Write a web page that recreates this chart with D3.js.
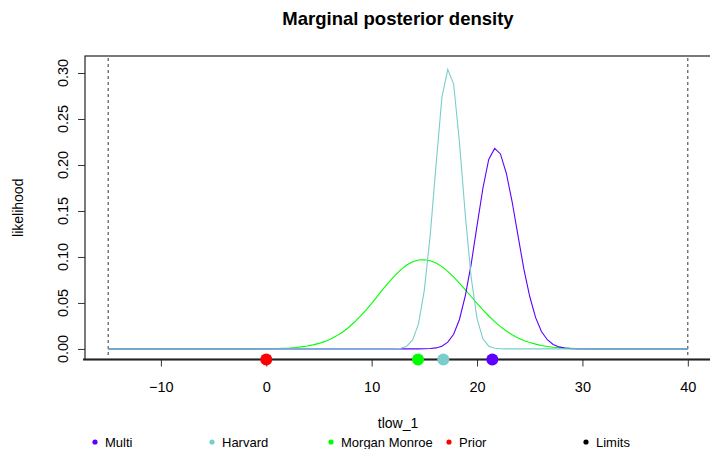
<!DOCTYPE html>
<html>
<head>
<meta charset="utf-8">
<script src="https://cdn.jsdelivr.net/npm/d3@7"></script>
<style>
  body { margin: 0; background: #fff; }
  svg { display: block; font-family: "Liberation Sans", Arial, Helvetica, sans-serif; }
</style>
</head>
<body>
<svg id="chart"></svg>
<script>
// grid of tlow_1 values the densities were evaluated on (-15 .. 40)
const tlowGrid = [
  -15, -14.44, -13.89, -13.33, -12.78, -12.22, -11.67, -11.11, -10.56, -10,
  -9.44, -8.89, -8.33, -7.78, -7.22, -6.67, -6.11, -5.56, -5, -4.44,
  -3.89, -3.33, -2.78, -2.22, -1.67, -1.11, -0.56, 0, 0.56, 1.11,
  1.67, 2.22, 2.78, 3.33, 3.89, 4.44, 5, 5.56, 6.11, 6.67,
  7.22, 7.78, 8.33, 8.89, 9.44, 10, 10.56, 11.11, 11.67, 12.22,
  12.78, 13.33, 13.89, 14.44, 15, 15.56, 16.11, 16.67, 17.22, 17.78,
  18.33, 18.89, 19.44, 20, 20.56, 21.11, 21.67, 22.22, 22.78, 23.33,
  23.89, 24.44, 25, 25.56, 26.11, 26.67, 27.22, 27.78, 28.33, 28.89,
  29.44, 30, 30.56, 31.11, 31.67, 32.22, 32.78, 33.33, 33.89, 34.44,
  35, 35.56, 36.11, 36.67, 37.22, 37.78, 38.33, 38.89, 39.44, 40
];

const multiDensity = [
  0, 0, 0, 0, 0, 0, 0, 0, 0, 0,
  0, 0, 0, 0, 0, 0, 0, 0, 0, 0,
  0, 0, 0, 0, 0, 0, 0, 0, 0, 0,
  0, 0, 0, 0, 0, 0, 0, 0, 0, 0,
  0, 0, 0, 0, 0, 0, 0, 0, 0, 0,
  0, 0, 0, 0.0001, 0.0002, 0.0004, 0.0011, 0.003, 0.0074, 0.016,
  0.032, 0.058, 0.092, 0.134, 0.175, 0.206, 0.218, 0.212, 0.191, 0.16,
  0.123, 0.087, 0.057, 0.034, 0.019, 0.01, 0.0048, 0.0022, 0.0009, 0.0003,
  0.0001, 0, 0, 0, 0, 0, 0, 0, 0, 0,
  0, 0, 0, 0, 0, 0, 0, 0, 0, 0
];

const harvardDensity = [
  0, 0, 0, 0, 0, 0, 0, 0, 0, 0,
  0, 0, 0, 0, 0, 0, 0, 0, 0, 0,
  0, 0, 0, 0, 0, 0, 0, 0, 0, 0,
  0, 0, 0, 0, 0, 0, 0, 0, 0, 0,
  0, 0, 0, 0, 0, 0, 0, 0, 0, 0.0001,
  0.0007, 0.003, 0.0098, 0.027, 0.064, 0.124, 0.2, 0.274, 0.304, 0.288,
  0.225, 0.145, 0.078, 0.033, 0.011, 0.003, 0.0008, 0.0002, 0, 0,
  0, 0, 0, 0, 0, 0, 0, 0, 0, 0,
  0, 0, 0, 0, 0, 0, 0, 0, 0, 0,
  0, 0, 0, 0, 0, 0, 0, 0, 0, 0
];

const morganMonroeDensity = [
  0, 0, 0, 0, 0, 0, 0, 0, 0, 0,
  0, 0, 0, 0, 0, 0, 0, 0, 0, 0,
  0, 0, 0.00001, 0.00002, 0.00004, 0.00007, 0.00011, 0.00018, 0.00029, 0.00044,
  0.00068, 0.001, 0.0015, 0.0022, 0.0031, 0.0044, 0.006, 0.0082, 0.0109, 0.0142,
  0.0182, 0.023, 0.0287, 0.035, 0.042, 0.0495, 0.0575, 0.0655, 0.073, 0.08,
  0.0862, 0.0912, 0.0948, 0.0967, 0.097, 0.0959, 0.0934, 0.0895, 0.0844, 0.0783,
  0.0716, 0.0643, 0.057, 0.0495, 0.0424, 0.0358, 0.0297, 0.0243, 0.0195, 0.0155,
  0.012, 0.0092, 0.007, 0.0052, 0.0038, 0.0027, 0.0019, 0.0013, 0.0009, 0.0006,
  0.0004, 0.00027, 0.00017, 0.0001, 0.00006, 0.00003, 0, 0, 0, 0,
  0, 0, 0, 0, 0, 0, 0, 0, 0, 0
];

// point estimates drawn on the x axis
const pointNames = ["Prior", "Morgan Monroe", "Harvard", "Multi"];
const pointValues = [0, 14.4, 16.8, 21.45];

const limitValues = [-15, 40];

const xTicks = [-10, 0, 10, 20, 30, 40];
const yTicks = [0, 0.05, 0.10, 0.15, 0.20, 0.25, 0.30];

const legendLabels = ["Multi", "Harvard", "Morgan Monroe", "Prior", "Limits"];

const colors = {
  "Multi": "#5d00ff",
  "Harvard": "#79cdcd",
  "Morgan Monroe": "#00ff00",
  "Prior": "#ff0000",
  "Limits": "#000000"
};

const width = 710, height = 449;
const plot = {left: 85, right: 711, top: 56, bottom: 359.5};
const legendX = [95, 212, 331, 449, 586];   // R legend item positions

const svg = d3.select("#chart")
    .attr("width", width)
    .attr("height", height);

const x = d3.scaleLinear()
    .domain([-17.2, 42.2])
    .range([plot.left, plot.right]);

const y = d3.scaleLinear()
    .domain([-0.0115, 0.3185])
    .range([plot.bottom, plot.top]);

// Title
svg.append("text")
    .attr("x", (plot.left + plot.right) / 2)
    .attr("y", 25)
    .attr("text-anchor", "middle")
    .style("font-size", "18.5px")
    .style("font-weight", "bold")
    .text("Marginal posterior density");

// plot box
svg.append("rect")
    .attr("x", plot.left)
    .attr("y", plot.top)
    .attr("width", plot.right - plot.left)
    .attr("height", plot.bottom - plot.top)
    .attr("fill", "none")
    .attr("stroke", "#222")
    .attr("stroke-width", 1.2);

// limits
svg.selectAll(".limit")
    .data(limitValues)
    .join("line")
    .attr("class", "limit")
    .attr("x1", d => x(d)).attr("x2", d => x(d))
    .attr("y1", plot.top + 2).attr("y2", plot.bottom - 2)
    .attr("stroke", "#333")
    .attr("stroke-width", 1)
    .attr("stroke-dasharray", "3,3");

// density curves
const series = [
  {name: "Morgan Monroe", values: morganMonroeDensity},
  {name: "Multi", values: multiDensity},
  {name: "Harvard", values: harvardDensity}
];

const line = d3.line()
    .x((d, i) => x(tlowGrid[i]))
    .y(d => y(d));

svg.selectAll(".density")
    .data(series)
    .join("path")
    .attr("class", "density")
    .attr("d", d => line(d.values))
    .attr("fill", "none")
    .attr("stroke", d => colors[d.name])
    .attr("stroke-width", 1.1);

// x axis
const xAxisG = svg.append("g")
    .attr("transform", `translate(0,${plot.bottom})`)
    .call(d3.axisBottom(x).tickValues(xTicks).tickSize(7).tickPadding(15).tickFormat(d3.format("d")));
xAxisG.select(".domain").remove();
xAxisG.selectAll("line").attr("stroke", "#333");
xAxisG.selectAll("text").style("font-size", "14.5px").style("font-family", "Liberation Sans, Arial, sans-serif").attr("fill", "#000");

svg.append("line")
    .attr("x1", plot.left - 2).attr("x2", width)
    .attr("y1", plot.bottom).attr("y2", plot.bottom)
    .attr("stroke", "#222")
    .attr("stroke-width", 2);

// y axis
const yAxisG = svg.append("g")
    .attr("transform", `translate(${plot.left},0)`)
    .call(d3.axisLeft(y).tickValues(yTicks).tickSize(7).tickFormat(""));
yAxisG.select(".domain").remove();
yAxisG.selectAll("line").attr("stroke", "#333");

svg.selectAll(".ytick-label")
    .data(yTicks)
    .join("text")
    .attr("class", "ytick-label")
    .attr("transform", d => `translate(67.5,${y(d)}) rotate(-90)`)
    .attr("text-anchor", "middle")
    .style("font-size", "14.5px")
    .text(d3.format(".2f"));

// axis titles
svg.append("text")
    .attr("transform", `translate(23,${(plot.top + plot.bottom) / 2}) rotate(-90)`)
    .attr("text-anchor", "middle")
    .style("font-size", "14px")
    .text("likelihood");

svg.append("text")
    .attr("x", (plot.left + plot.right) / 2)
    .attr("y", 428)
    .attr("text-anchor", "middle")
    .style("font-size", "14px")
    .text("tlow_1");

// point estimates on the axis
svg.selectAll(".estimate")
    .data(pointValues)
    .join("circle")
    .attr("class", "estimate")
    .attr("cx", d => x(d))
    .attr("cy", y(y.domain()[0]))
    .attr("r", 6)
    .attr("fill", (d, i) => colors[pointNames[i]]);

// legend
const legendItem = svg.append("g")
    .attr("transform", "translate(0,442)")
    .selectAll("g")
    .data(legendLabels)
    .join("g")
    .attr("transform", (d, i) => `translate(${legendX[i]},0)`);

legendItem.append("circle")
    .attr("r", 2.6)
    .attr("fill", d => colors[d]);

legendItem.append("text")
    .attr("x", 10)
    .attr("y", 4.5)
    .style("font-size", "13px")
    .text(d => d);
</script>
</body>
</html>
